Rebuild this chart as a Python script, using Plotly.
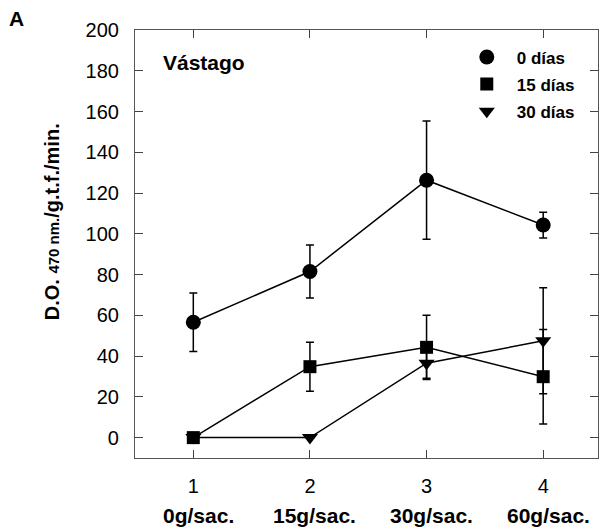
import plotly.graph_objects as go

x_vals = [1, 2, 3, 4]
x_cat_labels = ["0g/sac.", "15g/sac.", "30g/sac.", "60g/sac."]
y_ticks = [0, 20, 40, 60, 80, 100, 120, 140, 160, 180, 200]

d0 = [56.6, 81.5, 126.3, 104.3]
d0_err = [14.4, 13.0, 29.0, 6.3]
d15 = [0, 34.8, 44.3, 29.9]
d15_err = [0, 12.0, 15.8, 23.2]
d30 = [0, 0, 36.5, 47.5]
d30_err = [0, 0, 7.4, 26.0]

series = [
    ("0 días", d0, d0_err, "circle", 15),
    ("15 días", d15, d15_err, "square", 13),
    ("30 días", d30, d30_err, "triangle-down", 14),
]

FONT = "Liberation Sans, Arial, sans-serif"
fig = go.Figure()
for name, ys, errs, sym, sz in series:
    fig.add_trace(go.Scatter(
        x=x_vals, y=ys, mode="lines+markers", showlegend=False,
        line=dict(color="black", width=1.5),
        marker=dict(symbol=sym, size=sz, color="black"),
        error_y=dict(type="data", array=errs, visible=True, color="black",
                     thickness=1.5, width=4),
    ))
for i, (name, ys, errs, sym, sz) in enumerate(series):
    fig.add_trace(go.Scatter(
        x=[None], y=[None], mode="markers", name="<b>" + name + "</b>",
        legendgroup="g%d" % i,
        marker=dict(symbol=sym, size=sz, color="black"),
    ))

fig.update_layout(
    width=602, height=530,
    margin=dict(l=135, r=4, t=30, b=72),
    paper_bgcolor="white", plot_bgcolor="white",
    font=dict(family=FONT, color="black"),
    showlegend=True,
    legend=dict(x=0.695, y=0.978, xanchor="left", yanchor="top",
                font=dict(size=17, family=FONT), tracegroupgap=2,
                itemwidth=50, bgcolor="rgba(0,0,0,0)"),
    xaxis=dict(range=[0.5, 4.47], tickvals=x_vals, ticktext=[str(v) for v in x_vals],
               ticks="inside", ticklen=8, tickcolor="#444", mirror="ticks",
               showline=True, linecolor="#555", linewidth=1.2, showgrid=False,
               zeroline=False, tickfont=dict(size=20), ticklabelstandoff=10),
    yaxis=dict(range=[-10, 200], tickvals=y_ticks,
               ticks="inside", ticklen=8, tickcolor="#444", mirror="ticks",
               showline=True, linecolor="#555", linewidth=1.2, showgrid=False,
               zeroline=False, tickfont=dict(size=20), ticklabelstandoff=11),
)

fig.add_annotation(text="<b>A</b>", xref="paper", yref="paper",
                   x=-0.276, y=1.026, showarrow=False, font=dict(size=21),
                   xanchor="left", yanchor="middle")
fig.add_annotation(text="<b>Vástago</b>", xref="paper", yref="paper",
                   x=0.056, y=0.925, showarrow=False, font=dict(size=21),
                   xanchor="left", yanchor="middle")
fig.add_annotation(
    text="<b>D.O.</b> <span style='font-size:15px'><b>470 nm.</b></span><b>/g.t.f./min.</b>",
    xref="paper", yref="paper", x=-0.179, y=0.551, textangle=-90,
    showarrow=False, font=dict(size=20), xanchor="center", yanchor="middle")
for xv, lab in zip(x_vals, x_cat_labels):
    fig.add_annotation(text="<b>" + lab + "</b>", x=xv, xref="x", y=-0.1355,
                       yref="paper", showarrow=False, font=dict(size=21),
                       xanchor="center", yanchor="middle", xshift=5)

fig.write_html("out.html", config={"displayModeBar": False},
               post_script="document.body.style.margin='0';")
